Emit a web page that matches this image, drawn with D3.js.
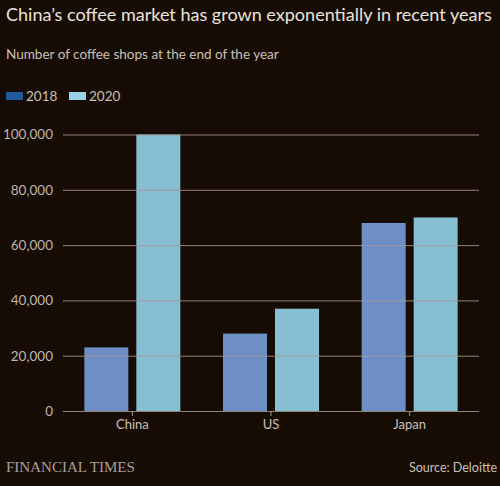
<!DOCTYPE html>
<html>
<head>
<meta charset="utf-8">
<script src="https://cdn.jsdelivr.net/npm/d3@7"></script>
<style>
  body { margin: 0; background: #170c03; }
  svg { display: block; }
  text { font-family: Lato, "Noto Sans", sans-serif; }
</style>
</head>
<body>
<svg id="chart" width="500" height="486"></svg>
<script>
// data
var countries = ["China", "US", "Japan"];
var years = ["2018", "2020"];
var shops2018 = [23000, 28000, 68000];
var shops2020 = [100000, 37000, 70000];
var yTicks = [0, 20000, 40000, 60000, 80000, 100000];

var barColors = { "2018": "#6e8fc6", "2020": "#86bed2" };
var keyColors = { "2018": "#1f5a9a", "2020": "#96d4ea" };

var svg = d3.select("#chart");
svg.append("rect").attr("width", 500).attr("height", 486).attr("fill", "#170c03");

// shrink the font size until the text is as wide as the reference
function fitWidth(sel, size, width) {
  sel.style("font-size", size + "px");
  var w = sel.node().getComputedTextLength();
  sel.style("font-size", (size * width / w).toFixed(2) + "px");
}

var rows = countries.map(function (c, i) {
  return { country: c, values: [{ year: "2018", v: shops2018[i] }, { year: "2020", v: shops2020[i] }] };
});

var x0 = d3.scaleBand().domain(countries).range([63, 479]);
var x1 = d3.scaleBand().domain(years)
  .range([x0.bandwidth() / 2 - 48, x0.bandwidth() / 2 + 48])
  .paddingInner(0.154);
var y = d3.scaleLinear().domain([0, 100000]).range([411, 134.5]);

// titles
var title = svg.append("text").attr("x", 6).attr("y", 21)
  .attr("fill", "#e8e2dc")
  .text("China\u2019s coffee market has grown exponentially in recent years");
fitWidth(title, 20, 486);
var sub = svg.append("text").attr("x", 6).attr("y", 59)
  .attr("fill", "#c9c0b8")
  .text("Number of coffee shops at the end of the year");
fitWidth(sub, 14.5, 273);

// legend
var key = svg.append("g").selectAll("g").data(years).enter().append("g")
  .attr("transform", function (d, i) { return "translate(" + (6 + i * 63) + ",0)"; });
key.append("rect").attr("y", 92).attr("width", 17).attr("height", 8)
  .attr("fill", function (d) { return keyColors[d]; });
key.append("text").attr("x", 20).attr("y", 101)
  .attr("fill", "#c9c0b8").style("font-size", "13.5px")
  .text(function (d) { return d; });

// bars
var groups = svg.append("g").selectAll("g").data(rows).enter().append("g")
  .attr("transform", function (d) { return "translate(" + x0(d.country) + ",0)"; });
groups.selectAll("rect").data(function (d) { return d.values; }).enter().append("rect")
  .attr("x", function (d) { return x1(d.year); })
  .attr("width", x1.bandwidth())
  .attr("y", function (d) { return y(d.v); })
  .attr("height", function (d) { return y(0) - y(d.v); })
  .attr("fill", function (d) { return barColors[d.year]; });

// y axis, gridlines over the bars
var yAxis = svg.append("g")
  .attr("transform", "translate(63,0)")
  .call(d3.axisLeft(y).tickValues(yTicks).tickSize(-416).tickPadding(10)
    .tickFormat(d3.format(",")));
yAxis.select(".domain").remove();
yAxis.selectAll("line").attr("stroke", "#a39892").attr("stroke-opacity", 0.85);
yAxis.selectAll("text").attr("fill", "#bfb5ad").style("font-size", "13.5px")
  .style("font-family", "Lato, sans-serif");

// x axis
var xAxis = svg.append("g")
  .attr("transform", "translate(0,411)")
  .call(d3.axisBottom(x0).tickSize(5).tickPadding(4));
xAxis.select(".domain").remove();
xAxis.selectAll("line").attr("stroke", "#a39892");
xAxis.selectAll("text").attr("fill", "#c9c0b8").style("font-size", "13px")
  .style("font-family", "Lato, sans-serif");

// footer
var ft = svg.append("text").attr("x", 6).attr("y", 472)
  .attr("fill", "#a89f98")
  .style("font-family", "'Liberation Serif', 'DejaVu Serif', serif")
  .text("FINANCIAL TIMES");
fitWidth(ft, 16, 129);
svg.append("text").attr("x", 497).attr("y", 472)
  .attr("text-anchor", "end")
  .attr("fill", "#c9c0b8").style("font-size", "12.5px")
  .text("Source: Deloitte");
</script>
</body>
</html>
